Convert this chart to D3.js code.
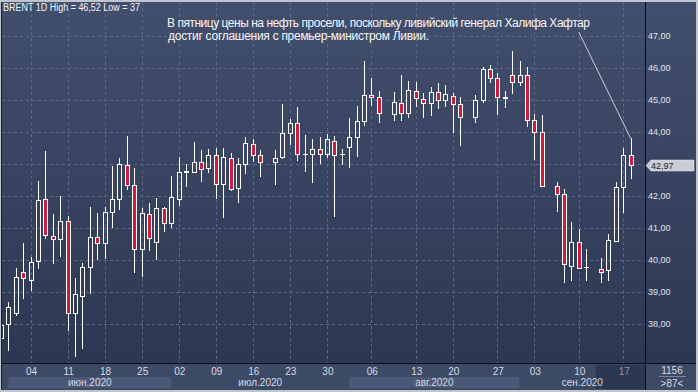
<!DOCTYPE html>
<html>
<head>
<meta charset="utf-8">
<script src="https://cdn.jsdelivr.net/npm/d3@7"></script>
<style>
  html, body { margin: 0; padding: 0; background: #c0c4cc; }
  svg { display: block; }
  text { font-family: "Liberation Sans", Arial, sans-serif; }
</style>
</head>
<body>
<script>
// daily candles, slot -1 .. 84, null = empty slot
var opens  = [37.56, 38.00,38.34,39.63,39.37,39.96,41.90,40.76,40.65,41.21,38.33,38.87,39.77,40.71,40.52,41.50,41.90,42.96,42.33,40.33,41.43,40.57,41.61,41.15,
  41.92,42.74,42.76,43.06,42.86,43.28,42.37,43.18,42.24,42.99,43.63,43.27,null,43.07,43.21,43.96,44.27,43.31,43.31,43.48,43.31,43.73,
  43.30,43.54,43.85,44.35,45.17,45.08,null,44.56,44.90,44.58,45.29,45.04,44.90,45.26,44.99,45.13,44.87,null,44.46,44.99,45.96,45.68,45.07,45.78,
  45.57,45.78,44.38,43.99,null,42.32,42.06,39.82,40.55,39.77,null,39.71,39.68,40.59,42.27,43.27];
var highs  = [38.10, 38.69,39.75,40.53,40.10,42.47,43.40,41.44,42.00,41.37,39.45,39.90,41.65,41.46,41.67,42.94,43.18,43.87,42.86,41.61,41.77,41.93,41.67,42.62,
  43.23,43.00,43.70,43.44,43.46,43.49,43.49,43.35,43.18,43.83,43.77,43.44,null,43.44,44.88,44.40,44.79,43.90,43.77,43.83,43.94,43.88,
  43.46,44.44,44.81,46.23,45.70,45.28,null,45.24,45.78,45.59,45.57,45.21,45.42,45.54,45.47,45.21,45.10,null,45.16,46.04,46.10,45.85,45.29,46.52,
  46.23,46.04,44.56,44.53,null,42.45,42.22,41.18,40.97,40.33,null,40.05,40.81,42.45,43.51,43.80];
var lows   = [37.35, 37.16,38.25,38.78,39.04,39.72,40.67,39.88,40.10,37.79,36.98,37.22,38.95,40.00,40.04,41.01,41.57,42.20,39.60,39.46,40.29,40.00,40.88,41.01,
  41.69,42.29,42.73,42.45,42.73,41.92,41.30,42.17,41.79,42.69,43.07,42.60,null,42.34,43.15,43.59,43.10,42.76,42.40,43.00,43.18,41.35,
  42.97,42.87,43.23,44.20,44.82,44.27,null,44.34,44.34,44.43,44.79,44.45,44.50,44.72,44.79,43.98,43.56,null,44.27,44.90,45.52,44.53,44.74,45.19,
  45.45,44.15,43.13,42.29,null,41.51,39.29,39.35,39.71,39.35,null,39.29,39.35,40.57,41.48,42.52];
var closes = [37.97, 38.53,39.47,39.43,39.95,41.86,40.77,40.66,41.21,38.33,38.93,39.77,40.71,40.52,41.50,41.90,42.99,42.33,40.33,41.46,40.68,41.61,41.15,41.96,
  42.75,42.78,43.06,42.85,43.28,42.37,43.23,42.21,42.99,43.65,43.27,43.07,null,43.18,43.96,44.27,43.31,43.32,43.48,43.31,43.77,43.28,
  43.31,43.85,44.34,45.17,45.08,44.58,null,44.93,44.58,45.31,45.05,44.92,45.26,44.99,45.19,44.87,44.46,null,44.99,45.96,45.68,45.10,45.08,45.57,
  45.78,44.38,43.99,42.32,null,42.06,39.87,40.55,39.76,39.78,null,39.62,40.61,42.28,43.27,42.97];

var priceTicks = [38, 39, 40, 41, 42, 43, 44, 45, 46, 47];
var daySlots  = [3, 8, 13, 18, 23, 28, 33, 38, 43, 49, 55, 60, 66, 71, 77, 83];
var dayLabels = ["04","11","18","25","02","09","16","23","30","06","13","20","27","03","10","17"];
var monthStart  = [0, 22, 46, 69];
var monthLabels = ["июн.2020", "июл.2020", "авг.2020", "сен.2020"];

var lastPrice = 42.97;
var title = "BRENT 1D High = 46,52 Low = 37";
var noteLines = ["В пятницу цены на нефть просели, поскольку ливийский генерал Халифа Хафтар",
                 "достиг соглашения с премьер-министром Ливии."];
var notePoint = [77, 47.12];   // where the pointer line starts (slot, price)

var W = 698, H = 392;
var plotL = 2, plotT = 2, plotR = 645, plotB = 363, outR = 696, outB = 390;

var svg = d3.select("body").append("svg").attr("width", W).attr("height", H);

var x = d3.scaleLinear().domain([0, 84]).range([8.3, 630.7]);
var y = d3.scaleLinear().domain([38, 47]).range([324, 36]);
var fmt = function(v) { return d3.format(".2f")(v).replace(".", ","); };

var defs = svg.append("defs");
var grad = defs.append("linearGradient").attr("id", "bg").attr("x1", 0).attr("y1", 0).attr("x2", 0).attr("y2", 1);
grad.append("stop").attr("offset", "0%").attr("stop-color", "#424f6c");
grad.append("stop").attr("offset", "100%").attr("stop-color", "#2c3753");
defs.append("clipPath").attr("id", "clip").append("rect")
    .attr("x", plotL).attr("y", plotT).attr("width", plotR - plotL).attr("height", plotB - plotT);

// backgrounds
svg.append("rect").attr("x", 1).attr("y", plotT).attr("width", outR - 1).attr("height", plotB - plotT)
    .attr("fill", "url(#bg)");
svg.append("rect").attr("x", 1).attr("y", plotB).attr("width", outR - 1).attr("height", outB - plotB)
    .attr("fill", "#3d4a66");

// month bands
var monthEnd = monthStart.slice(1).map(function(s) { return x(s); }).concat([plotR]);
svg.append("g").selectAll("rect").data(monthStart).enter().append("rect")
    .attr("x", function(s) { return x(s); })
    .attr("y", 377)
    .attr("width", function(s, i) { return monthEnd[i] - x(s); })
    .attr("height", 11)
    .attr("fill", function(s, i) { return i % 2 == 0 ? "#4b5876" : "#3d4a66"; });

// current week highlight
svg.append("rect").attr("x", x(79) + 2).attr("y", 365).attr("width", plotR - x(79) - 2).attr("height", 24)
    .attr("fill", "#2c3752");

// grid
var grid = svg.append("g").attr("clip-path", "url(#clip)")
    .attr("stroke", "#5b6886").attr("stroke-width", 1).attr("stroke-dasharray", "3,3");
grid.selectAll(".h").data(priceTicks).enter().append("line")
    .attr("x1", plotL).attr("x2", plotR)
    .attr("y1", function(d) { return Math.round(y(d)) + 0.5; })
    .attr("y2", function(d) { return Math.round(y(d)) + 0.5; });
grid.selectAll(".v").data(daySlots).enter().append("line")
    .attr("y1", plotT).attr("y2", plotB)
    .attr("x1", function(d) { return Math.round(x(d)) + 0.5; })
    .attr("x2", function(d) { return Math.round(x(d)) + 0.5; });

// candles
var candles = d3.range(opens.length).map(function(k) {
  return { slot: k - 1, o: opens[k], h: highs[k], l: lows[k], c: closes[k] };
}).filter(function(d) { return d.o != null; });

var cg = svg.append("g").attr("clip-path", "url(#clip)");
candles.forEach(function(d) {
  var cx = Math.round(x(d.slot));
  var top = Math.round(y(Math.max(d.o, d.c))) + 0.5;
  var bot = Math.round(y(Math.min(d.o, d.c))) + 0.5;
  var yh = Math.round(y(d.h)), yl = Math.round(y(d.l));
  var g = cg.append("g").attr("stroke", "#ffffff").attr("stroke-width", 1);
  g.append("line").attr("x1", cx + 0.5).attr("x2", cx + 0.5).attr("y1", yh).attr("y2", top);
  g.append("line").attr("x1", cx + 0.5).attr("x2", cx + 0.5).attr("y1", bot).attr("y2", yl);
  if (bot - top < 1) {
    g.append("line").attr("x1", cx - 2).attr("x2", cx + 3).attr("y1", top).attr("y2", top);
  } else {
    g.append("rect").attr("x", cx - 1.5).attr("y", top).attr("width", 4).attr("height", bot - top)
      .attr("fill", d.c < d.o ? "#cc1d3c" : "none");
  }
});

// axis lines
svg.append("line").attr("x1", plotR + 0.5).attr("x2", plotR + 0.5).attr("y1", plotT).attr("y2", outB)
    .attr("stroke", "#0a0d14");
svg.append("line").attr("x1", 1).attr("x2", outR).attr("y1", plotB + 0.5).attr("y2", plotB + 0.5)
    .attr("stroke", "#0a0d14");
svg.append("line").attr("x1", 1.5).attr("x2", 1.5).attr("y1", plotT).attr("y2", outB)
    .attr("stroke", "#1a2030");

// right axis labels (the one under the price marker is hidden)
svg.append("g").selectAll("text")
    .data(priceTicks.filter(function(d) { return Math.abs(y(d) - y(lastPrice)) > 11; }))
    .enter().append("text")
    .attr("x", 648).attr("y", function(d) { return y(d); }).attr("dy", "0.35em")
    .attr("font-size", 9).attr("fill", "#e2e6ee")
    .text(fmt);

// last price marker
var ly = Math.round(y(lastPrice)) + 0.5;
svg.append("path")
    .attr("d", "M646," + ly + "L651," + (ly - 5.5) + "H694V" + (ly + 5.5) + "H651Z")
    .attr("fill", "#c9cdd5").attr("stroke", "#e8eaee").attr("stroke-width", 0.5);
svg.append("text").attr("x", 651).attr("y", ly).attr("dy", "0.35em")
    .attr("font-size", 9).attr("fill", "#1c2230").text(fmt(lastPrice));

// bottom axis labels
svg.append("g").selectAll("text").data(daySlots).enter().append("text")
    .attr("x", function(d) { return x(d) + 1; }).attr("y", 371.5).attr("dy", "0.35em")
    .attr("text-anchor", "middle").attr("font-size", 10)
    .attr("fill", function(d, i) { return i == daySlots.length - 1 ? "#8e98ad" : "#d6dae3"; })
    .text(function(d, i) { return dayLabels[i]; });
svg.append("g").selectAll("text").data(monthStart).enter().append("text")
    .attr("x", function(s, i) { return (x(s) + monthEnd[i]) / 2; }).attr("y", 382.5).attr("dy", "0.35em")
    .attr("text-anchor", "middle").attr("font-size", 10).attr("fill", "#d6dae3")
    .text(function(s, i) { return monthLabels[i]; });

// corner box
svg.append("text").attr("x", 672).attr("y", 370).attr("dy", "0.35em").attr("text-anchor", "middle")
    .attr("font-size", 10).attr("fill", "#d6dae3").text("1156");
svg.append("line").attr("x1", 659).attr("x2", 686).attr("y1", 376.5).attr("y2", 376.5).attr("stroke", "#7d879c");
svg.append("text").attr("x", 672).attr("y", 383).attr("dy", "0.35em").attr("text-anchor", "middle")
    .attr("font-size", 10).attr("fill", "#d6dae3").text(">87<");

// title
svg.append("text").attr("x", 3).attr("y", 11).attr("font-size", 10).attr("fill", "#f2f4f8")
    .attr("textLength", 137).attr("lengthAdjust", "spacingAndGlyphs").text(title);

// annotation
svg.append("line")
    .attr("x1", x(notePoint[0])).attr("y1", y(notePoint[1]))
    .attr("x2", x(84)).attr("y2", y(highs[highs.length - 1]))
    .attr("stroke", "#c9ced8").attr("stroke-width", 1);
svg.append("text").attr("x", 167).attr("y", 27).attr("font-size", 12).attr("fill", "#f4f6fa")
    .attr("textLength", 423).attr("lengthAdjust", "spacing").text(noteLines[0]);
svg.append("text").attr("x", 168).attr("y", 39.5).attr("font-size", 12).attr("fill", "#f4f6fa")
    .attr("textLength", 261).attr("lengthAdjust", "spacing").text(noteLines[1]);
</script>
</body>
</html>
